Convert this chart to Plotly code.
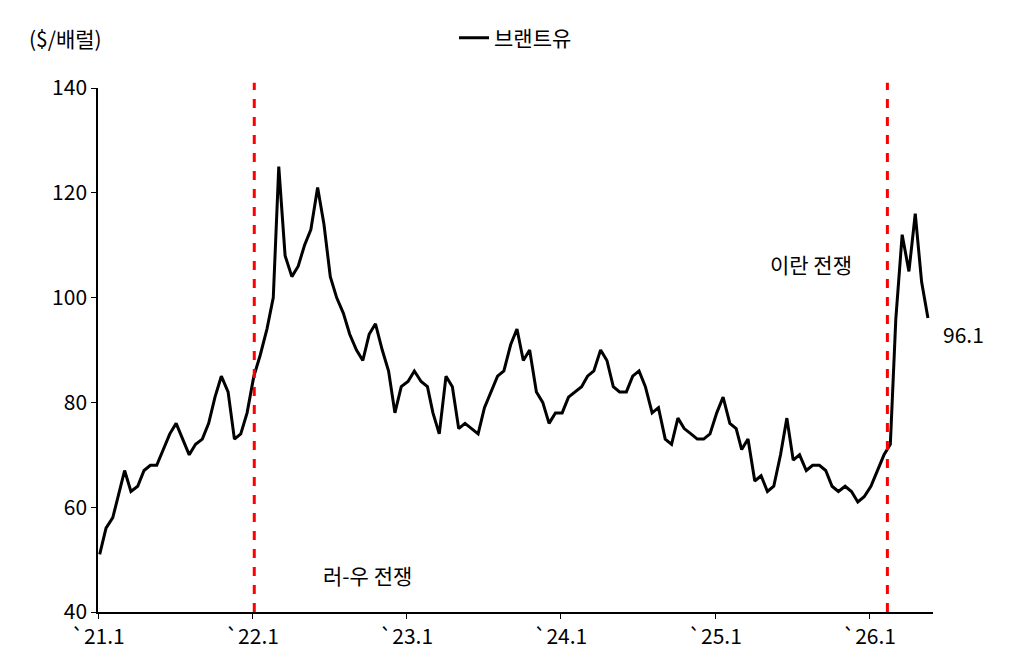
import plotly.graph_objects as go

vals = {
"2021": [51,56, 58,63, 67,63, 64,67, 68,68, 71,74, 76,73, 70,72, 73,76, 81,85, 82,73, 74,78],
"2022": [85,89, 94,100, 125,108, 104,106, 110,113, 121,114, 104,100, 97,93, 90,88, 93,95, 90,86, 78,83],
"2023": [84,86, 84,83, 78,74, 85,83, 75,76, 75,74, 79,82, 85,86, 91,94, 88,90, 82,80, 76,78],
"2024": [78,81, 82,83, 85,86, 90,88, 83,82, 82,85, 86,83, 78,79, 73,72, 77,75, 74,73, 73,74],
"2025": [78,81, 76,75, 71,73, 65,66, 63,64, 70,77, 69,70, 67,68, 68,67, 64,63, 64,63, 61,62],
"2026": [64,67, 70,72, 96,112, 105,116, 103,96.1],
}
dates, prices = [], []
for yr, v in vals.items():
    for i, p in enumerate(v):
        m = i // 2 + 1
        d = 5 if i % 2 == 0 else 20
        dates.append(f"{yr}-{m:02d}-{d:02d}")
        prices.append(p)

tick_vals = ["2021-01-01","2022-01-01","2023-01-01","2024-01-01","2025-01-01","2026-01-01"]
tick_text = ["`21.1","`22.1","`23.1","`24.1","`25.1","`26.1"]
war_dates = ["2022-01-06", "2026-02-13"]

F = "Noto Sans CJK KR"
fig = go.Figure()
fig.add_trace(go.Scatter(x=dates, y=prices, mode="lines", name="브랜트유",
                         line=dict(color="black", width=3)))
for wd in war_dates:
    fig.add_shape(type="line", x0=wd, x1=wd, yref="paper", y0=0, y1=1.01,
                  line=dict(color="#ff0000", width=3, dash="dash"))
fig.update_layout(
    width=1014, height=664, plot_bgcolor="white", paper_bgcolor="white",
    margin=dict(l=90, r=89, t=80, b=60, autoexpand=False),
    font=dict(family=F, size=21, color="black"),
    showlegend=True,
    legend=dict(orientation="h", x=0.5, xanchor="center", y=1.095, yanchor="middle",
                font=dict(size=21)),
    xaxis=dict(range=["2021-01-01", "2026-06-01"], tickvals=tick_vals, ticktext=tick_text,
               showline=True, linecolor="black", linewidth=1.5, ticks="outside",
               tickcolor="black", showgrid=False, zeroline=False, automargin=False),
    yaxis=dict(range=[40, 140], dtick=20, showline=True, linecolor="black", linewidth=1.5,
               ticks="outside", tickcolor="black", showgrid=False, zeroline=False,
               automargin=False),
    annotations=[
        dict(text="($/배럴)", xref="paper", yref="paper", x=-0.085, y=1.095, showarrow=False,
             xanchor="left", yanchor="middle"),
        dict(text="러-우 전쟁", xref="x", yref="y", x="2022-10-01", y=47, showarrow=False),
        dict(text="이란 전쟁", xref="x", yref="y", x="2025-08-15", y=106.5, showarrow=False),
        dict(text="96.1", xref="paper", yref="y", x=1.01, y=93, showarrow=False, xanchor="left"),
    ],
)
fig.write_html("out.html")
